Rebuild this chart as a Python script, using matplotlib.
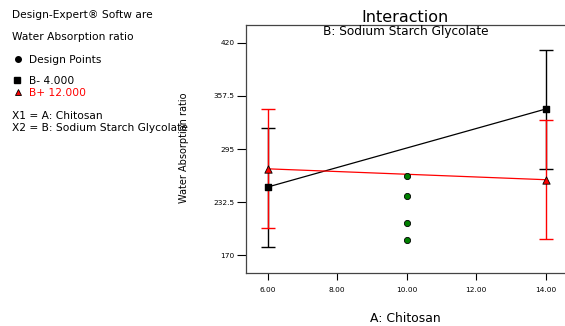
import matplotlib
matplotlib.use("Agg")
import matplotlib.pyplot as plt

# ---------- data ----------
a_levels = [6.0, 14.0]
b_minus = [250.3, 342.0]          # B- 4.000
b_minus_lo = [180.1, 271.5]
b_minus_hi = [319.6, 411.4]
b_plus = [271.7, 258.9]           # B+ 12.000
b_plus_lo = [202.1, 188.8]
b_plus_hi = [341.7, 328.7]

design_x = [10.0, 10.0, 10.0, 10.0]
design_y = [262.9, 239.7, 207.6, 188.3]

x_ticks = [6, 8, 10, 12, 14]
y_ticks = [170, 232.5, 295, 357.5, 420]
y_tick_labels = ["170", "232.5", "295", "357.5", "420"]

# ---------- figure ----------
W, H = 565, 326
fig = plt.figure(figsize=(W / 100, H / 100), dpi=100)
plt.rcParams["font.family"] = ["DejaVu Sans"]

# axes box runs a little past the right edge, as in the reference
left, right, top, bottom = 246, 567.4, 25, 273
ax = fig.add_axes([left / W, 1 - bottom / H, (right - left) / W, (bottom - top) / H])

ax.set_xlim(5.375, 14.625)
ax.set_ylim(149.2, 440.8)

# B- (black)
ax.plot(a_levels, b_minus, "-", color="black", linewidth=0.9, zorder=3)
err_lo = [m - lo for m, lo in zip(b_minus, b_minus_lo)]
err_hi = [hi - m for m, hi in zip(b_minus, b_minus_hi)]
ax.errorbar(a_levels, b_minus, yerr=[err_lo, err_hi], fmt="none",
            ecolor="black", elinewidth=1.0, capsize=5, capthick=1.0, zorder=2)

# B+ (red)
ax.plot(a_levels, b_plus, "-", color="red", linewidth=0.9, zorder=3)
err_lo = [m - lo for m, lo in zip(b_plus, b_plus_lo)]
err_hi = [hi - m for m, hi in zip(b_plus, b_plus_hi)]
ax.errorbar(a_levels, b_plus, yerr=[err_lo, err_hi], fmt="none",
            ecolor="red", elinewidth=1.0, capsize=5, capthick=1.0, zorder=2.5)

ax.scatter(a_levels, b_minus, marker="s", s=24, color="black", zorder=5)
ax.scatter(a_levels, b_plus, marker="^", s=28, facecolor="red",
           edgecolor="black", linewidth=0.6, zorder=5)

# design points
ax.scatter(design_x, design_y, marker="o", s=20, facecolor="#008000",
           edgecolor="black", linewidth=0.6, zorder=5)

# axes styling
ax.set_xticks(x_ticks)
ax.set_xticklabels([f"{v:.2f}" for v in x_ticks])
ax.set_yticks(y_ticks)
ax.set_yticklabels(y_tick_labels)
ax.tick_params(axis="x", direction="out", length=5, width=0.8, labelsize=5.3, pad=5)
ax.tick_params(axis="y", direction="out", length=6.5, width=0.8, labelsize=5.3, pad=1.5)
for side in ["left", "bottom", "top"]:
    ax.spines[side].set_color("#444444")
    ax.spines[side].set_linewidth(0.9)
ax.spines["right"].set_visible(False)

# titles and labels
fig.text(405 / W, 1 - 17 / H, "Interaction", ha="center", va="center", fontsize=11.5)
fig.text(405.5 / W, 1 - 32 / H, "B: Sodium Starch Glycolate", ha="center",
         va="center", fontsize=8.7)
fig.text(184 / W, 1 - 147.5 / H, "Water Absorption ratio", ha="center",
         va="center", rotation=90, fontsize=7)
fig.text(405 / W, 1 - 319 / H, "A: Chitosan", ha="center", va="center", fontsize=8.9)

# left-hand info block
fs = 7.7
fig.text(12 / W, 1 - 15 / H, "Design-Expert® Softw are", ha="left", va="center", fontsize=fs)
fig.text(12 / W, 1 - 37 / H, "Water Absorption ratio", ha="left", va="center", fontsize=fs)
fig.text(29 / W, 1 - 60 / H, "Design Points", ha="left", va="center", fontsize=fs)
fig.text(29 / W, 1 - 81 / H, "B- 4.000", ha="left", va="center", fontsize=fs)
fig.text(29 / W, 1 - 93 / H, "B+ 12.000", ha="left", va="center", fontsize=fs, color="red")
fig.text(12 / W, 1 - 116 / H, "X1 = A: Chitosan", ha="left", va="center", fontsize=fs)
fig.text(12 / W, 1 - 128 / H, "X2 = B: Sodium Starch Glycolate", ha="left", va="center",
         fontsize=fs)

# legend symbols in figure coordinates
fig.add_artist(plt.Line2D([18 / W], [1 - 59 / H], marker="o", markersize=4,
                          color="black", linestyle="none"))
fig.add_artist(plt.Line2D([17 / W], [1 - 80 / H], marker="s", markersize=4,
                          color="black", linestyle="none"))
fig.add_artist(plt.Line2D([18 / W], [1 - 92 / H], marker="^", markersize=5,
                          markerfacecolor="red", markeredgecolor="black",
                          markeredgewidth=0.6, linestyle="none"))

fig.savefig("out.png", dpi=100)
